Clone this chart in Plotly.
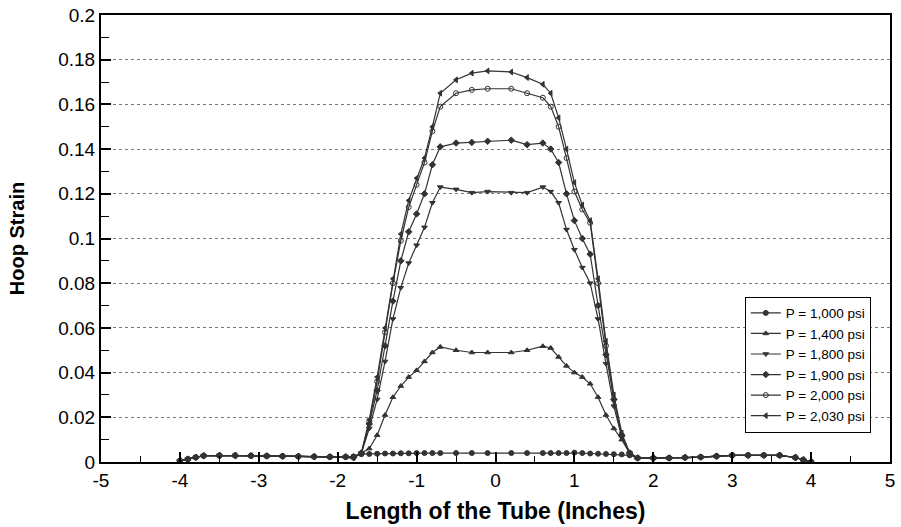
import plotly.graph_objects as go

# x positions (inches) along the tube
x_outer_left = [-4.0, -3.9, -3.8, -3.7, -3.5, -3.3, -3.1, -2.9, -2.7, -2.5, -2.3, -2.1, -1.9]
x_left = [-1.8, -1.7, -1.6, -1.5, -1.4, -1.3, -1.2, -1.1, -1.0, -0.9, -0.8]
x_top = [-0.7, -0.5, -0.3, -0.1, 0.2, 0.4, 0.6]
x_right = [0.7, 0.8, 0.9, 1.0, 1.1, 1.2, 1.3, 1.4, 1.5, 1.6, 1.7]
x_outer_right = [1.8, 2.0, 2.2, 2.4, 2.6, 2.8, 3.0, 3.2, 3.4, 3.6, 3.8, 3.9, 4.0]
x_all = x_outer_left + x_left + x_top + x_right + x_outer_right

# Hoop strain values per pressure
p1000 = ([0.0005, 0.0012, 0.002, 0.0028, 0.0029, 0.0029, 0.0028, 0.0027, 0.0026, 0.0025, 0.0024, 0.0023, 0.0023]
         + [0.0025, 0.0035, 0.0036, 0.0037, 0.0038, 0.0038, 0.0039, 0.0039, 0.004, 0.004, 0.004]
         + [0.004, 0.004, 0.004, 0.004, 0.004, 0.004, 0.004]
         + [0.004, 0.004, 0.004, 0.0042, 0.004, 0.0038, 0.0037, 0.0036, 0.0035, 0.0034, 0.003]
         + [0.0018, 0.0018, 0.0018, 0.002, 0.0022, 0.0026, 0.003, 0.003, 0.003, 0.003, 0.002, 0.001, 0.0])
p1400 = ([0.0006, 0.0013, 0.0021, 0.0028, 0.0029, 0.0029, 0.0028, 0.0027, 0.0026, 0.0025, 0.0024, 0.0023, 0.0023]
         + [0.0025, 0.004, 0.006, 0.012, 0.021, 0.029, 0.034, 0.038, 0.041, 0.045, 0.049]
         + [0.0515, 0.050, 0.049, 0.049, 0.049, 0.050, 0.0518]
         + [0.051, 0.047, 0.043, 0.040, 0.038, 0.035, 0.029, 0.021, 0.015, 0.010, 0.004]
         + [0.0018, 0.0018, 0.0018, 0.002, 0.0022, 0.0026, 0.003, 0.003, 0.003, 0.003, 0.002, 0.001, 0.0])
p1800 = ([0.0006, 0.0013, 0.0021, 0.0028, 0.0029, 0.0029, 0.0028, 0.0027, 0.0026, 0.0025, 0.0024, 0.0023, 0.0023]
         + [0.002, 0.004, 0.015, 0.028, 0.045, 0.064, 0.078, 0.089, 0.097, 0.105, 0.116]
         + [0.123, 0.122, 0.1205, 0.121, 0.1205, 0.1205, 0.123]
         + [0.121, 0.116, 0.104, 0.095, 0.087, 0.080, 0.064, 0.044, 0.025, 0.011, 0.004]
         + [0.0018, 0.0018, 0.0018, 0.002, 0.0022, 0.0026, 0.003, 0.003, 0.003, 0.003, 0.002, 0.001, 0.0])
p1900 = ([0.0006, 0.0013, 0.0021, 0.0028, 0.0029, 0.0029, 0.0028, 0.0027, 0.0026, 0.0025, 0.0024, 0.0023, 0.0023]
         + [0.002, 0.004, 0.017, 0.032, 0.052, 0.072, 0.090, 0.103, 0.111, 0.120, 0.133]
         + [0.141, 0.1427, 0.143, 0.1435, 0.144, 0.142, 0.1427]
         + [0.140, 0.134, 0.120, 0.108, 0.100, 0.093, 0.070, 0.048, 0.028, 0.012, 0.004]
         + [0.0018, 0.0018, 0.0018, 0.002, 0.0022, 0.0026, 0.003, 0.003, 0.003, 0.003, 0.002, 0.001, 0.0])
p2000 = ([0.0006, 0.0013, 0.0021, 0.0028, 0.0029, 0.0029, 0.0028, 0.0027, 0.0026, 0.0025, 0.0024, 0.0023, 0.0023]
         + [0.002, 0.004, 0.018, 0.036, 0.058, 0.080, 0.099, 0.114, 0.124, 0.134, 0.148]
         + [0.159, 0.165, 0.1665, 0.167, 0.167, 0.165, 0.163]
         + [0.159, 0.150, 0.136, 0.121, 0.113, 0.107, 0.080, 0.052, 0.028, 0.012, 0.004]
         + [0.0018, 0.0018, 0.0018, 0.002, 0.0022, 0.0026, 0.003, 0.003, 0.003, 0.003, 0.002, 0.001, 0.0])
p2030 = ([0.0006, 0.0013, 0.0021, 0.0028, 0.0029, 0.0029, 0.0028, 0.0027, 0.0026, 0.0025, 0.0024, 0.0023, 0.0023]
         + [0.002, 0.004, 0.019, 0.038, 0.060, 0.082, 0.102, 0.117, 0.127, 0.136, 0.150]
         + [0.165, 0.171, 0.174, 0.175, 0.1745, 0.172, 0.169]
         + [0.165, 0.154, 0.140, 0.125, 0.115, 0.108, 0.082, 0.054, 0.030, 0.013, 0.004]
         + [0.0018, 0.0018, 0.0018, 0.002, 0.0022, 0.0026, 0.003, 0.003, 0.003, 0.003, 0.002, 0.001, 0.0])

series_names = ["P = 1,000 psi", "P = 1,400 psi", "P = 1,800 psi",
                "P = 1,900 psi", "P = 2,000 psi", "P = 2,030 psi"]
series_values = [p1000, p1400, p1800, p1900, p2000, p2030]
series_symbols = ["circle", "triangle-up", "triangle-down", "diamond", "circle-open", "triangle-left"]

x_tick_vals = [-5, -4, -3, -2, -1, 0, 1, 2, 3, 4, 5]
x_tick_text = ["-5", "-4", "-3", "-2", "-1", "0", "1", "2", "3", "4", "5"]
y_tick_vals = [0, 0.02, 0.04, 0.06, 0.08, 0.1, 0.12, 0.14, 0.16, 0.18, 0.2]
y_tick_text = ["0", "0.02", "0.04", "0.06", "0.08", "0.1", "0.12", "0.14", "0.16", "0.18", "0.2"]

LINE = "#333333"
fig = go.Figure()
for name, vals, sym in zip(series_names, series_values, series_symbols):
    fig.add_trace(go.Scatter(
        x=x_all, y=vals, name=name, mode="lines+markers",
        line=dict(color=LINE, width=1.2),
        marker=dict(symbol=sym, size=5, color=LINE, line=dict(color=LINE, width=1)),
    ))

font_family = "Liberation Sans, Arial, sans-serif"
fig.update_layout(
    width=901, height=527,
    margin=dict(l=101, r=11, t=15, b=65),
    paper_bgcolor="white", plot_bgcolor="white",
    font=dict(family=font_family, color="black", size=19),
    showlegend=True,
    legend=dict(
        x=0.816, y=0.37, xanchor="left", yanchor="top",
        bgcolor="white", bordercolor="black", borderwidth=1,
        font=dict(size=13.5, color="black"),
        itemwidth=30, tracegroupgap=0,
    ),
)
fig.update_xaxes(
    range=[-5, 5], tickvals=x_tick_vals, ticktext=x_tick_text,
    ticks="inside", ticklen=10, tickwidth=1.5, tickcolor="black",
    showline=True, linecolor="black", linewidth=2, mirror=True,
    showgrid=False, zeroline=False, automargin=False,
    minor=dict(ticks="inside", dtick=0.5, ticklen=6, tickcolor="black", tickwidth=1),
    title=dict(text="<b>Length of the Tube (Inches)</b>", font=dict(size=23), standoff=13),
    tickfont=dict(size=19),
)
fig.update_yaxes(
    range=[0, 0.2], tickvals=y_tick_vals, ticktext=y_tick_text,
    ticks="inside", ticklen=10, tickwidth=1.5, tickcolor="black",
    showline=True, linecolor="black", linewidth=2, mirror=True,
    showgrid=True, gridcolor="#7a7a7a", griddash="dot", gridwidth=1,
    zeroline=False, automargin=False,
    minor=dict(ticks="inside", dtick=0.01, ticklen=8, tickcolor="black", tickwidth=1, showgrid=False),
    title=dict(text="<b>Hoop Strain</b>", font=dict(size=20), standoff=28),
    tickfont=dict(size=19),
)

fig.write_html("out.html")
